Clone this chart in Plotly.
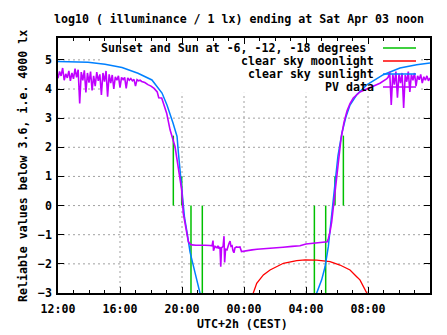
import plotly.graph_objects as go

# ---- time axis: hours since Fri 12:00 (UTC+2h) ----
tick_hours = [0, 4, 8, 12, 16, 20, 24]
tick_labels = ["12:00", "16:00", "20:00", "00:00", "04:00", "08:00", "12:00"]
y_ticks = [-3, -2, -1, 0, 1, 2, 3, 4, 5]

# clear sky sunlight model (log10 lx)
sun_h = [0.0, 1.94, 3.03, 4.13, 5.16, 6.06, 6.71, 7.03, 7.42, 7.68, 7.77, 7.94, 8.03,
         8.16, 8.32, 8.52, 8.84, 9.16, 9.25,
         None,
         16.62, 16.69, 17.01, 17.23, 17.44, 17.55, 17.66, 17.76, 17.87, 18.06, 18.32,
         18.58, 18.84, 19.27, 19.92, 20.99, 22.06, 23.14, 24.0]
sun_v = [4.94, 4.92, 4.85, 4.74, 4.54, 4.31, 3.86, 3.45, 2.83, 2.37, 1.8, 0.9, 0.2,
         -0.4, -0.9, -1.6, -2.3, -2.96, -3.2,
         None,
         -3.2, -3.0, -2.55, -2.1, -1.41, -0.84, -0.26, 0.31, 0.88, 1.7, 2.5,
         3.05, 3.45, 3.80, 4.14, 4.49, 4.72, 4.83, 4.89]

# clear sky moonlight model
moon_h = [12.55, 12.6, 12.82, 13.25, 13.68, 14.54, 15.4, 15.94, 16.69, 17.55, 18.19,
          18.84, 19.27, 19.48, 19.92, 19.98]
moon_v = [-3.2, -3.0, -2.67, -2.38, -2.21, -1.98, -1.89, -1.86, -1.87, -1.92, -2.04,
          -2.21, -2.44, -2.55, -3.0, -3.2]

# sunset / dusk (-6, -12, -18) and dawn (-18, -12, -6) / sunrise
twilight_h = [7.44, 7.98, 8.58, 9.31, 16.54, 17.27, 17.87, 18.41]
twilight_lo = [0, 0, -3, -3, -3, -3, 0, 0]
twilight_hi = [2.4, 1.0, 0, 0, 0, 0, 1.0, 2.4]

# PV-derived illuminance
pv_h = [0.0, 0.1, 0.2, 0.3, 0.4, 0.5, 0.6, 0.7, 0.8, 0.9, 1.0, 1.1, 1.2, 1.3, 1.4,
        1.5, 1.6, 1.7, 1.8, 1.9, 2.0, 2.1, 2.2, 2.3, 2.4, 2.5, 2.6, 2.7, 2.8, 2.9,
        3.0, 3.1, 3.2, 3.3, 3.4, 3.5, 3.6, 3.7, 3.8, 3.9, 4.0, 4.1, 4.2, 4.3, 4.4,
        4.5, 4.6, 4.7, 4.8, 4.9, 5.0, 5.1, 5.2, 5.3, 5.4, 5.5, 5.6, 5.8, 6.0, 6.2,
        6.4, 6.5, 6.69, 7.01, 7.23, 7.55, 7.76, 7.98, 8.08, 8.3, 8.41, 8.52, 8.65,
        8.9, 9.16, 9.48, 9.81, 9.94, 10.0, 10.03, 10.13, 10.26, 10.32, 10.39, 10.45,
        10.5, 10.55, 10.65, 10.71, 10.75, 10.81, 10.9, 11.03, 11.1, 11.16, 11.23,
        11.29, 11.35, 11.42, 11.52, 11.61, 11.74, 11.84, 12.0, 12.26, 12.52, 12.84,
        13.16, 13.55, 14.0, 14.52, 15.1, 15.61, 16.0, 16.45, 16.9, 17.23, 17.37,
        17.45, 17.55, 17.66, 17.76, 17.87, 17.97, 18.09, 18.26, 18.45, 18.65, 18.84,
        19.05, 19.48, 19.92, 20.13, 20.77, 21.2,
        21.3, 21.4, 21.5, 21.6, 21.7, 21.8, 21.9, 22.0, 22.1, 22.2, 22.3, 22.4, 22.5,
        22.6, 22.7, 22.8, 22.9, 23.0, 23.1, 23.2, 23.3, 23.4, 23.5, 23.6, 23.7, 23.8,
        23.9, 24.0]
pv_v = [4.37, 4.60, 4.45, 4.72, 4.30, 4.52, 4.38, 4.62, 4.28, 4.55, 4.35, 4.70, 4.40,
        4.66, 3.50, 4.58, 4.30, 4.64, 3.88, 4.55, 4.22, 4.60, 3.95, 4.45, 4.10, 4.58,
        4.28, 4.50, 3.80, 4.55, 4.25, 4.62, 3.74, 4.50, 4.20, 4.48, 4.00, 4.42, 4.30,
        4.45, 4.05, 4.40, 4.32, 4.40, 4.02, 4.38, 4.30, 4.36, 4.28, 4.33, 4.10, 4.32,
        4.28, 4.30, 4.26, 4.25, 4.22, 4.15, 4.10, 4.02, 3.90, 3.70, 3.69, 3.17, 2.60,
        2.02, 1.34, 0.54, -0.26, -0.95, -1.24, -1.32, -1.35, -1.36, -1.35, -1.36,
        -1.37, -1.38, -1.20, -1.55, -1.40, -1.45, -1.38, -1.48, -1.42, -2.10, -1.45,
        -1.40, -1.05, -1.95, -1.50, -1.52, -1.30, -1.22, -1.40, -1.38, -1.55, -1.62,
        -1.45, -1.42, -1.43, -1.42, -1.58, -1.56, -1.55, -1.52, -1.50, -1.49, -1.48,
        -1.46, -1.43, -1.40, -1.38, -1.32, -1.30, -1.28, -1.26, -1.24, -1.12, -0.90,
        -0.55, -0.04, 0.54, 0.88, 1.60, 2.30, 2.85, 3.25, 3.50, 3.69, 3.90, 4.00,
        4.05, 4.20, 4.35,
        4.40, 4.58, 3.45, 4.50, 4.15, 4.60, 3.70, 4.52, 4.20, 4.55, 3.35, 4.48, 4.25,
        4.60, 3.90, 4.50, 4.30, 4.55, 4.10, 4.45, 4.32, 4.50, 4.20, 4.42, 4.30, 4.45,
        4.28, 4.38]

GREEN, RED, BLUE, PURPLE = "#00c000", "#ff0000", "#0080ff", "#c000ff"
FONT = dict(family="DejaVu Sans Mono", size=11.6, color="black", weight="bold")

# twilight markers as vertical segments separated by gaps
tw_x, tw_y = [], []
for t, lo, hi in zip(twilight_h, twilight_lo, twilight_hi):
    tw_x += [t, t, None]
    tw_y += [lo, hi, None]

fig = go.Figure()
fig.add_trace(go.Scatter(x=tw_x, y=tw_y, mode="lines", line=dict(color=GREEN, width=1.5)))
fig.add_trace(go.Scatter(x=moon_h, y=moon_v, mode="lines", line=dict(color=RED, width=1.3)))
fig.add_trace(go.Scatter(x=sun_h, y=sun_v, mode="lines", line=dict(color=BLUE, width=1.5)))
fig.add_trace(go.Scatter(x=pv_h, y=pv_v, mode="lines", line=dict(color=PURPLE, width=1.6)))

# plot area in pixels: x 58..430, y 38..293
L, R, T, B = 58, 430, 38, 293
W, H = 447, 335
def px(xp):
    return (xp - L) / (R - L)
def py(yp):
    return (B - yp) / (B - T)

# key box region (grid is not drawn through it)
key_x0, key_x1, key_ybot = 2.71, 23.42, 3.87
grid = dict(color="#a0a0a0", width=1, dash="2px,3px")
shapes = []
for yv in y_ticks[1:]:
    if yv > key_ybot:
        shapes.append(dict(type="line", xref="x", yref="y", x0=0, x1=key_x0, y0=yv, y1=yv,
                           line=grid, layer="below"))
        shapes.append(dict(type="line", xref="x", yref="y", x0=key_x1, x1=24, y0=yv, y1=yv,
                           line=grid, layer="below"))
    else:
        shapes.append(dict(type="line", xref="x", yref="y", x0=0, x1=24, y0=yv, y1=yv,
                           line=grid, layer="below"))
for xv in tick_hours[1:-1]:
    top = key_ybot if key_x0 < xv < key_x1 else 5.75
    shapes.append(dict(type="line", xref="x", yref="y", x0=xv, x1=xv, y0=-3, y1=top,
                       line=grid, layer="below"))

# key: right-justified labels followed by a sample line
key_entries = [("Sunset and Sun at -6, -12, -18 degrees", GREEN, 368, 48),
               ("clear sky moonlight", RED, 376, 61),
               ("clear sky sunlight", BLUE, 376, 74),
               ("PV data", PURPLE, 376, 87)]
annotations = []
for text, col, xr, yc in key_entries:
    annotations.append(dict(text=text, x=px(xr), y=py(yc), xref="paper", yref="paper",
                            xanchor="right", yanchor="middle", showarrow=False, font=FONT))
    shapes.append(dict(type="line", xref="paper", yref="paper", x0=px(383), x1=px(416),
                       y0=py(yc), y1=py(yc), line=dict(color=col, width=1.3)))

annotations.append(dict(text="log10 ( illuminance / 1 lx) ending at Sat Apr 03 noon",
                        x=px(238.5), y=py(19), xref="paper", yref="paper",
                        xanchor="center", yanchor="middle", showarrow=False, font=FONT))
annotations.append(dict(text="UTC+2h (CEST)", x=px(242), y=py(324), xref="paper",
                        yref="paper", xanchor="center", yanchor="middle",
                        showarrow=False, font=FONT))
annotations.append(dict(text="Reliable values below 3.6, i.e. 4000 lx", x=px(23),
                        y=py(166), xref="paper", yref="paper", xanchor="center",
                        yanchor="middle", textangle=-90, showarrow=False, font=FONT))

fig.update_layout(
    width=W, height=H,
    margin=dict(l=L, r=W - R, t=T, b=H - B, pad=0),
    paper_bgcolor="white", plot_bgcolor="white",
    showlegend=False,
    shapes=shapes, annotations=annotations,
    font=FONT,
)
fig.update_xaxes(range=[0, 24], tickvals=tick_hours, ticktext=tick_labels,
                 ticks="inside", ticklen=6, tickcolor="black", tickwidth=1,
                 showline=True, linecolor="black", linewidth=1.5, mirror="ticks",
                 showgrid=False, zeroline=False, tickfont=FONT, ticklabelstandoff=4,
                 minor=dict(ticks="inside", ticklen=3, dtick=1, tick0=0,
                            tickcolor="black", showgrid=False))
fig.update_yaxes(range=[-3, 5.75], tickvals=y_ticks, ticks="inside", ticklen=6,
                 tickcolor="black", tickwidth=1, showline=True, linecolor="black",
                 linewidth=1.5, mirror="ticks", showgrid=False, zeroline=False,
                 tickfont=FONT, ticklabelstandoff=2)

fig.write_html("out.html")
